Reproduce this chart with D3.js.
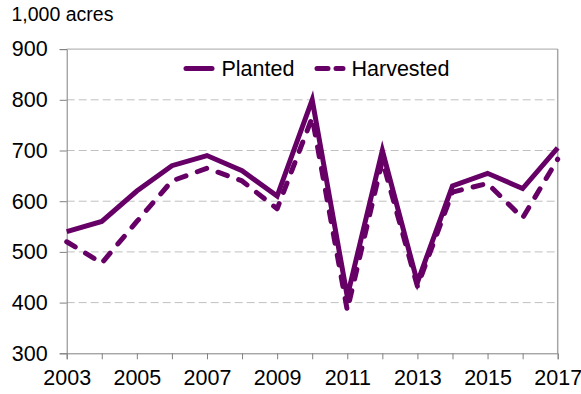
<!DOCTYPE html>
<html>
<head>
<meta charset="utf-8">
<script src="https://cdn.jsdelivr.net/npm/d3@7"></script>
<style>
  body { margin: 0; background: #fff; }
  text { font-family: "Liberation Sans", Arial, sans-serif; fill: #000; }
</style>
</head>
<body>
<svg id="chart" width="581" height="394"></svg>
<script>
const years = [2003,2004,2005,2006,2007,2008,2009,2010,2011,2012,2013,2014,2015,2016,2017];
const planted = [540,560,620,670,690,660,610,800,412,700,440,630,655,625,705];
const harvested = [520,478,560,640,665,640,585,765,385,680,432,618,635,567,683];
const yTicks = [300,400,500,600,700,800,900];
const xLabelYears = [2003,2005,2007,2009,2011,2013,2015,2017];
const seriesNames = ["Planted","Harvested"];
const unitLabel = "1,000 acres";

(function () {
const svg = d3.select("#chart");
const pLeft = 66.7, pRight = 557.7, pTop = 49.1, pBottom = 353.3;
const color = "#660066";
const fs = "21.5px";

const x = d3.scaleLinear().domain([2003,2017]).range([pLeft,pRight]);
const y = d3.scaleLinear().domain([300,900]).range([pBottom,pTop]);

// gridlines
svg.append("g").selectAll("line").data(yTicks.filter(d => d > 300 && d < 900)).join("line")
  .attr("x1", pLeft).attr("x2", pRight)
  .attr("y1", d => y(d)).attr("y2", d => y(d))
  .attr("stroke", "#c0c0c0").attr("stroke-width", 1)
  .attr("stroke-dasharray", "8,4");

// plot border top & right
svg.append("line").attr("x1", pLeft).attr("x2", pRight).attr("y1", y(900)).attr("y2", y(900))
  .attr("stroke", "#a6a6a6").attr("stroke-width", 1);
svg.append("line").attr("x1", pRight).attr("x2", pRight).attr("y1", y(900)).attr("y2", y(300))
  .attr("stroke", "#a6a6a6").attr("stroke-width", 1.5);

// y axis
const yAxis = d3.axisLeft(y).tickValues(yTicks).tickSize(7).tickPadding(12).tickFormat(d3.format("d"));
const gy = svg.append("g").attr("transform", `translate(${pLeft},0)`).call(yAxis);
gy.select(".domain").attr("stroke", "#808080");
gy.selectAll(".tick line").attr("stroke", "#808080");
gy.selectAll("text").style("font-size", fs).attr("fill", "#000")
  .style("font-family", '"Liberation Sans", Arial, sans-serif');

// x axis
const xAxis = d3.axisBottom(x).tickValues(years).tickSize(6).tickPadding(10)
  .tickFormat(d => xLabelYears.includes(d) ? String(d) : "");
const gx = svg.append("g").attr("transform", `translate(0,${pBottom})`).call(xAxis);
gx.select(".domain").attr("stroke", "#808080");
gx.selectAll(".tick line").attr("stroke", "#808080");
gx.selectAll("text").style("font-size", fs).attr("fill", "#000")
  .style("font-family", '"Liberation Sans", Arial, sans-serif');

// unit label
svg.append("text").attr("x", 11.5).attr("y", 21).style("font-size", "19.5px").text(unitLabel);

// lines
const line = d3.line().x((d,i) => x(years[i])).y(d => y(d));
svg.append("path").datum(harvested).attr("d", line)
  .attr("fill", "none").attr("stroke", color).attr("stroke-width", 5)
  .attr("stroke-dasharray", "10,12").attr("stroke-linecap", "round").attr("stroke-linejoin", "round");
svg.append("path").datum(planted).attr("d", line)
  .attr("fill", "none").attr("stroke", color).attr("stroke-width", 5)
  .attr("stroke-linejoin", "miter").attr("stroke-miterlimit", 10);

// legend
const lg = svg.append("g");
lg.append("line").attr("x1", 186).attr("x2", 212).attr("y1", 68.5).attr("y2", 68.5)
  .attr("stroke", color).attr("stroke-width", 5).attr("stroke-linecap", "round");
lg.append("text").attr("x", 221.5).attr("y", 75.5).style("font-size", fs).text(seriesNames[0]);
lg.append("line").attr("x1", 317).attr("x2", 343).attr("y1", 68.5).attr("y2", 68.5)
  .attr("stroke", color).attr("stroke-width", 5).attr("stroke-linecap", "round")
  .attr("stroke-dasharray", "11,8");
lg.append("text").attr("x", 351.5).attr("y", 75.5).style("font-size", fs).text(seriesNames[1]);
})();
</script>
</body>
</html>
